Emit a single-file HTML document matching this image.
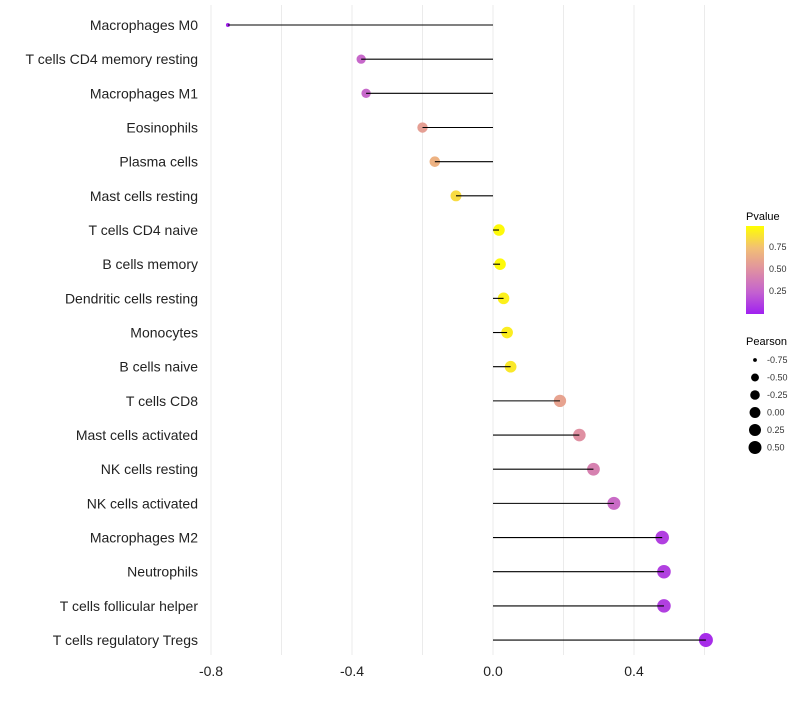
<!DOCTYPE html>
<html><head><meta charset="utf-8"><style>
body{margin:0;background:#fff;font-family:"Liberation Sans",sans-serif}
</style></head><body>
<svg id="chart" width="800" height="700" xmlns="http://www.w3.org/2000/svg">
<defs><linearGradient id="pg" x1="0" y1="1" x2="0" y2="0">
<stop offset="0" stop-color="#a020f0"/><stop offset="0.25" stop-color="#c462cf"/><stop offset="0.5" stop-color="#df90a2"/><stop offset="0.75" stop-color="#f2bf75"/><stop offset="1" stop-color="#ffff00"/></linearGradient></defs>
<g id="grid"></g>
<g id="marks"></g>
<g id="labels"></g>
<g id="xticks"></g>
<g id="legend">
<text x="746" y="220" font-size="11">Pvalue</text>
<rect x="746" y="226" width="18" height="88" fill="url(#pg)"/>
<text x="769" y="250" font-size="9" fill="#333">0.75</text>
<text x="769" y="272" font-size="9" fill="#333">0.50</text>
<text x="769" y="294" font-size="9" fill="#333">0.25</text>
<text x="746" y="345" font-size="11">Pearson</text>
</g>
</svg>
<script>
const categories=["Macrophages M0","T cells CD4 memory resting","Macrophages M1","Eosinophils","Plasma cells","Mast cells resting","T cells CD4 naive","B cells memory","Dendritic cells resting","Monocytes","B cells naive","T cells CD8","Mast cells activated","NK cells resting","NK cells activated","Macrophages M2","Neutrophils","T cells follicular helper","T cells regulatory  Tregs"];
const pearson=[-0.752,-0.374,-0.36,-0.20,-0.165,-0.105,0.017,0.02,0.03,0.04,0.05,0.19,0.245,0.285,0.343,0.48,0.485,0.485,0.604];
const pvalue=[0.02,0.28,0.28,0.58,0.68,0.86,0.98,0.98,0.94,0.93,0.91,0.6,0.5,0.42,0.3,0.12,0.12,0.12,0.05];
const xTicks=[-0.8,-0.4,0.0,0.4];
const xGrid=[-0.8,-0.6,-0.4,-0.2,0,0.2,0.4,0.6];
const legendSizes=[-0.75,-0.5,-0.25,0,0.25,0.5];
const NS="http://www.w3.org/2000/svg";
const x=v=>493+v*352.5;
const y=i=>25+i*34.17;
const r=v=>2+5*Math.sqrt(Math.max(0,(v+0.75)/1.35));
const stops=[[0,[160,32,240]],[0.25,[196,98,207]],[0.5,[223,144,162]],[0.75,[242,191,117]],[1,[255,255,0]]];
function col(p){for(let i=1;i<stops.length;i++){if(p<=stops[i][0]){const a=stops[i-1],b=stops[i],t=(p-a[0])/(b[0]-a[0]);return "rgb("+a[1].map((c,k)=>Math.round(c+(b[1][k]-c)*t)).join(",")+")";}}return "rgb(255,255,0)";}
function mk(tag,attrs,parent){const e=document.createElementNS(NS,tag);for(const k in attrs)e.setAttribute(k,attrs[k]);document.getElementById(parent).appendChild(e);return e;}
xGrid.forEach(v=>{const l=mk("line",{x1:x(v),x2:x(v),y1:5,y2:655,stroke:"#ebebeb","stroke-width":1},"grid");

});
xTicks.forEach(v=>{const t=mk("text",{x:x(v),y:676,"font-size":14,"text-anchor":"middle",fill:"#222"},"xticks");t.textContent=v.toFixed(1);

});
categories.forEach((c,i)=>{
const t=mk("text",{x:198,y:y(i)+5,"font-size":14,"text-anchor":"end",fill:"#222"},"labels");t.textContent=c;


const ci=mk("circle",{cx:x(pearson[i]),cy:y(i),r:r(pearson[i]),fill:col(pvalue[i])},"marks");


const l=mk("line",{x1:x(0),x2:x(pearson[i]),y1:y(i),y2:y(i),stroke:"#000","stroke-width":1.1},"marks");


});
legendSizes.forEach((v,i)=>{const cy=360+i*17.5;
const c=mk("circle",{cx:755,cy:cy,r:r(v)*0.95,fill:"#000"},"legend");


const t=mk("text",{x:767,y:cy+3,"font-size":9,fill:"#333"},"legend");t.textContent=v.toFixed(2);

});
</script>
</body></html>
